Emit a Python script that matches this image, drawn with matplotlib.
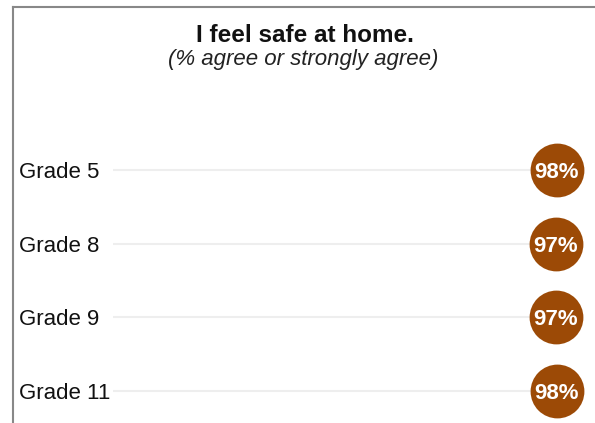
import matplotlib
matplotlib.use("Agg")
import matplotlib.pyplot as plt
import matplotlib.transforms as mtransforms
from matplotlib.lines import Line2D

# --- Data ---
grades = ["Grade 5", "Grade 8", "Grade 9", "Grade 11"]
pct = [98, 97, 97, 98]
title = "I feel safe at home."
subtitle = "(% agree or strongly agree)"

plt.rcParams['font.family'] = ['Liberation Sans', 'DejaVu Sans']

W, H = 595, 423
fig = plt.figure(figsize=(W / 100, H / 100), dpi=100)
fig.patch.set_facecolor("white")

# axes: x from px 113 to right edge, y from px 120 to bottom
ax = fig.add_axes([113 / W, 0, 482 / W, 303 / H])
ax.set_xlim(-345.5, 136.5)
ax.set_ylim(3.433, -0.678)
ax.axis("off")

ypos = list(range(len(grades)))
x0 = ax.get_xlim()[0]
ax.hlines(ypos, x0, pct, color="#eeeeee", lw=1.5, zorder=1)
ax.scatter(pct, ypos, s=1500, color="#9c4a06", zorder=2, clip_on=False, linewidths=0)
for y, v in zip(ypos, pct):
    ax.text(v, y, f"{v}%", color="white", fontsize=16, fontweight="bold",
            ha="center", va="center_baseline", zorder=3)

trans = mtransforms.blended_transform_factory(fig.transFigure, ax.transData)
for y, g in zip(ypos, grades):
    ax.text(19 / W, y, g, transform=trans, fontsize=16, ha="left",
            va="center_baseline", color="#111111")

fig.text(305 / W, 1 - 33 / H, title, fontsize=17.5, fontweight="bold",
         ha="center", va="center_baseline", color="#111111")
fig.text(303 / W, 1 - 57 / H, subtitle, fontsize=16, style="italic",
         ha="center", va="center_baseline", color="#222222")

# frame lines (top and left)
fig.add_artist(Line2D([13 / W, 1], [1 - 7 / H, 1 - 7 / H], transform=fig.transFigure,
                      color="#888888", lw=1.5))
fig.add_artist(Line2D([13 / W, 13 / W], [0, 1 - 7 / H], transform=fig.transFigure,
                      color="#888888", lw=1.5))

fig.savefig("out.png", dpi=100)
